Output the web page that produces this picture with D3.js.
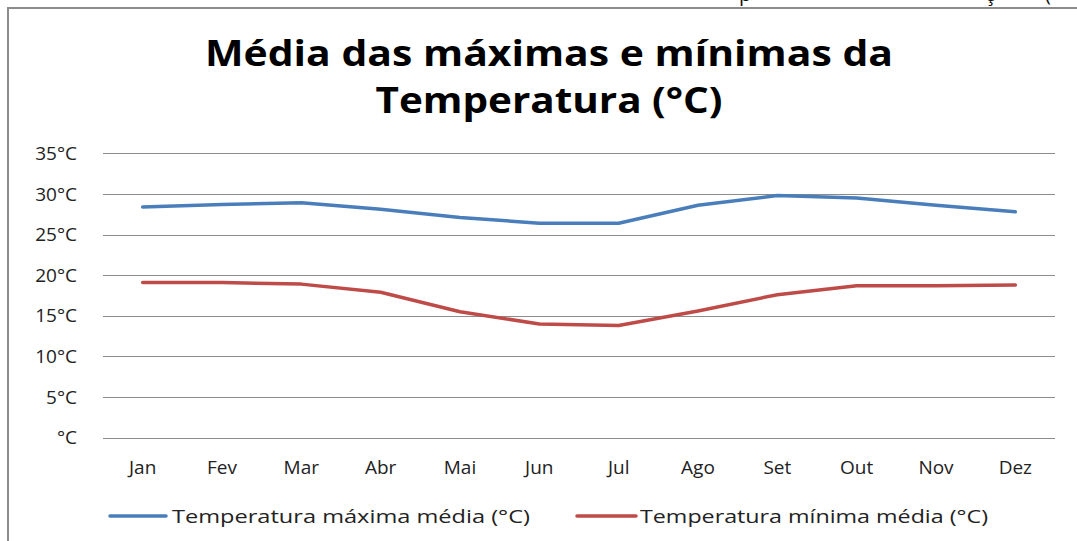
<!DOCTYPE html>
<html>
<head>
<meta charset="utf-8">
<script src="https://cdn.jsdelivr.net/npm/d3@7"></script>
<style>
  html, body { margin: 0; padding: 0; background: #fff; }
  svg { display: block; }
</style>
</head>
<body>
<svg id="chart" width="1077" height="541"></svg>
<script>
const months = ["Jan","Fev","Mar","Abr","Mai","Jun","Jul","Ago","Set","Out","Nov","Dez"];
const tempMax = [28.4, 28.7, 28.9, 28.1, 27.1, 26.4, 26.4, 28.6, 29.8, 29.5, 28.6, 27.8];
const tempMin = [19.1, 19.1, 18.9, 17.9, 15.5, 14.0, 13.8, 15.6, 17.6, 18.7, 18.7, 18.8];
const yTicks = [0, 5, 10, 15, 20, 25, 30, 35];
const seriesNames = ["Temperatura máxima média (°C)", "Temperatura mínima média (°C)"];
const titleLines = ["Média das máximas e mínimas da", "Temperatura (°C)"];

const W = 1077, H = 541;
const svg = d3.select("#chart");
svg.append("rect").attr("width", W).attr("height", H).attr("fill", "#fff");

const font = "'Open Sans', 'DejaVu Sans', sans-serif";

// cut-off text fragments at the very top (from page above)
const frag = svg.append("g").attr("font-family", font).attr("font-size", 20).attr("fill", "#111");
frag.append("text").attr("x", 739).attr("y", 1).text("p");
frag.append("text").attr("x", 985).attr("y", 1).text("ç");
frag.append("text").attr("x", 1045).attr("y", 1).text("(");

// frame
svg.append("path").attr("d", `M8,${H} V8 H${W}`).attr("fill", "none")
  .attr("stroke", "#8c8c8c").attr("stroke-width", 2);

// title
const titleG = svg.append("g").attr("font-family", font).attr("font-weight", 700)
  .attr("font-size", 36).attr("fill", "#000").attr("text-anchor", "middle");
const tW = [688, 347];
const tY = [66, 113];
titleLines.forEach((t, i) => {
  const el = titleG.append("text").attr("x", 549).attr("y", tY[i]).text(t);
  el.attr("textLength", tW[i]).attr("lengthAdjust", "spacingAndGlyphs");
});

// scales
const x = d3.scaleBand().domain(months).range([103, 1055]);
const y = d3.scaleLinear().domain([0, 35]).range([437.7, 153.3]);
const cx = m => x(m) + x.bandwidth() / 2;

// gridlines
svg.append("g").selectAll("line").data(yTicks).join("line")
  .attr("x1", 103).attr("x2", 1055)
  .attr("y1", d => Math.round(y(d)) + 0.5).attr("y2", d => Math.round(y(d)) + 0.5)
  .attr("stroke", "#8c8c8c").attr("stroke-width", 1);

// y labels
svg.append("g").attr("font-family", font).attr("font-size", 19).attr("fill", "#222")
  .attr("text-anchor", "end")
  .selectAll("text").data(yTicks).join("text")
  .attr("x", 77).attr("y", d => y(d)).attr("dy", "0.35em")
  .text(d => d === 0 ? "°C" : d + "°C");

// x labels
svg.append("g").attr("font-family", font).attr("font-size", 19).attr("fill", "#222")
  .attr("text-anchor", "middle")
  .selectAll("text").data(months).join("text")
  .attr("x", d => cx(d)).attr("y", 467).attr("dy", "0.35em")
  .text(d => d);

// lines
const colors = ["#4a7ebb", "#be4b48"];
const series = [tempMax, tempMin];
const line = d3.line().x((d, i) => cx(months[i])).y(d => y(d));
series.forEach((s, k) => {
  svg.append("path").datum(s).attr("d", line).attr("fill", "none")
    .attr("stroke", colors[k]).attr("stroke-width", 3.5)
    .attr("stroke-linejoin", "round").attr("stroke-linecap", "round");
});

// legend
const legX = [[110, 166, 172, 358], [577, 636, 640, 348]];
const legY = 516;
const leg = svg.append("g").attr("font-family", font).attr("font-size", 19).attr("fill", "#222");
seriesNames.forEach((n, k) => {
  const [x1, x2, tx, tw] = legX[k];
  leg.append("line").attr("x1", x1).attr("x2", x2).attr("y1", legY).attr("y2", legY)
    .attr("stroke", colors[k]).attr("stroke-width", 3.5).attr("stroke-linecap", "round");
  leg.append("text").attr("x", tx).attr("y", legY).attr("dy", "0.35em").text(n)
    .attr("textLength", tw).attr("lengthAdjust", "spacingAndGlyphs");
});
</script>
</body>
</html>
